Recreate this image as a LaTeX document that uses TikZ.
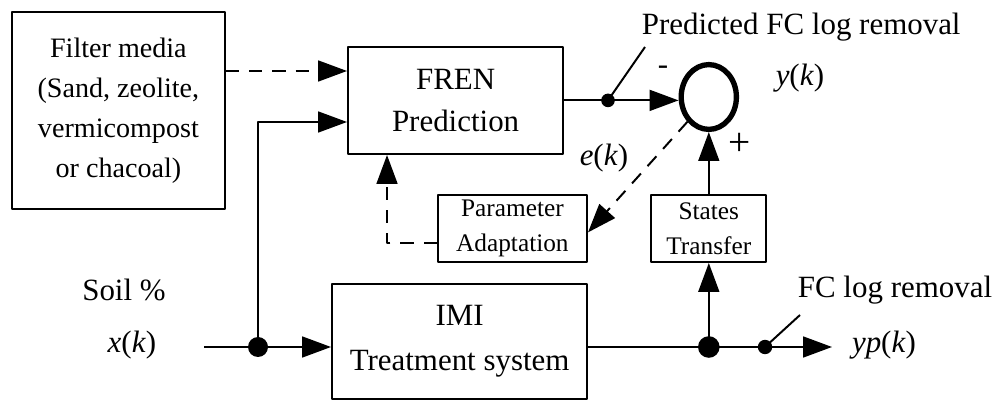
\documentclass[tikz,border=0pt]{standalone}
\usepackage{fontspec}
\setmainfont{Liberation Serif}
\usetikzlibrary{arrows.meta,shapes.geometric}
\newcommand{\sig}[1]{\textit{#1}(\textit{k})}
\begin{document}
\begin{tikzpicture}[line width=1.4pt, line join=round, font=\fontsize{22}{27}\selectfont,
	>={Triangle[length=0.72cm,width=0.52cm]},
	box/.style={draw, align=center, inner sep=0pt},
	dashline/.style={dash pattern=on 0.33cm off 0.25cm}]
	\useasboundingbox (0,0) rectangle (24.95,10.05);
	\node[box, minimum width=5.33cm, minimum height=4.93cm, font=\fontsize{20}{28.5}\selectfont] (media) at (2.96,7.29) {Filter media\\(Sand, zeolite,\\vermicompost\\or chacoal)};
	\node[box, minimum width=5.38cm, minimum height=2.68cm, font=\fontsize{22}{30}\selectfont] (fren) at (11.39,7.54) {FREN\\Prediction};
	\node[box, minimum width=3.73cm, minimum height=1.68cm, font=\fontsize{18}{25}\selectfont] (param) at (12.81,4.34) {Parameter\\Adaptation};
	\node[box, minimum width=2.88cm, minimum height=1.68cm, font=\fontsize{18}{25}\selectfont] (states) at (17.72,4.34) {States\\Transfer};
	\node[box, minimum width=6.38cm, minimum height=2.88cm, font=\fontsize{22}{32}\selectfont] (imi) at (11.49,1.51) {IMI\\Treatment system};
	\node[draw, ellipse, line width=3.8pt, minimum width=1.38cm, minimum height=1.62cm, inner sep=0pt] (sum) at (17.72,7.625) {};
	\coordinate (in) at (5.1,1.375);
	\coordinate (split) at (6.45,1.375);
	\coordinate (pred) at (15.2,7.54);
	\coordinate (predtip) at (16.125,8.875);
	\coordinate (tap) at (17.72,1.375);
	\coordinate (meas) at (19.125,1.375);
	\coordinate (meastip) at (20.0,2.175);
	\coordinate (out) at (20.8,1.375);
	\coordinate (mediain) at ([yshift=0.735cm]fren.west);
	\coordinate (soilin) at ([yshift=-0.54cm]fren.west);
	\coordinate (adapt) at ([yshift=-0.36cm]param.west);
	\node (predlbl) at (20.03,9.375) {Predicted FC log removal};
	\node (ylbl) at (20.0,8.1) {\sig{y}};
	\node (minus) at (16.575,8.3) {-};
	\node[font=\fontsize{28}{30}\selectfont] (plus) at (18.5,6.45) {+};
	\node (elbl) at (15.1,6.1) {\sig{e}};
	\node (measlbl) at (22.375,2.8) {FC log removal};
	\node (yplbl) at (22.1,1.425) {\textit{yp}(\textit{k})};
	\node (soil) at (3.1,2.8) {Soil \%};
	\node (xlbl) at (3.3,1.425) {\sig{x}};
	\draw[dashline,->] (media.east |- mediain) -- (mediain);
	\draw[->] (split) |- (soilin);
	\draw[->] (in) -- (split -| imi.west);
	\draw[->] (tap -| imi.east) -- (out);
	\draw[->] (tap) -- (states.south);
	\draw[->] (states.north) -- (sum.south);
	\draw[->] (fren.east) -- (fren.east -| sum.west);
	\draw[dashline,->] (sum.south west) -- ([yshift=-0.1cm]param.east);
	\draw[dashline,->] (adapt) -| ([xshift=1cm]fren.south west);
	\draw (pred) -- (predtip) (meas) -- (meastip);
	\foreach \p/\r in {split/0.25,tap/0.27,pred/0.17,meas/0.18}
	\fill (\p) circle (\r);
\end{tikzpicture}
\end{document}
